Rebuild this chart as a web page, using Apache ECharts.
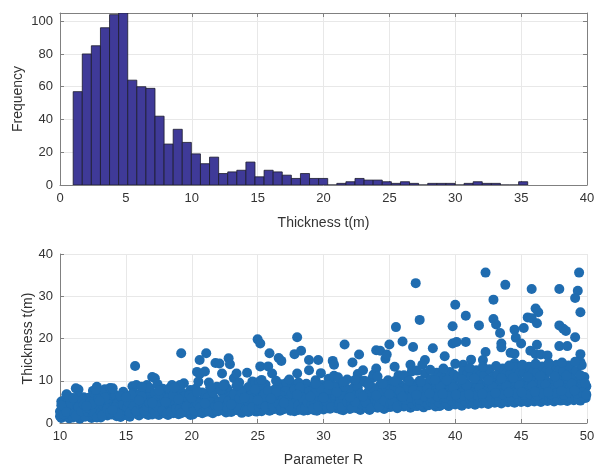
<!DOCTYPE html>
<html>
<head>
<meta charset="utf-8">
<script src="https://cdn.jsdelivr.net/npm/echarts@6/dist/echarts.min.js"></script>
<style>
  html, body { margin: 0; padding: 0; background: #fff; }
  #chart { width: 600px; height: 468px; }
</style>
</head>
<body>
<div id="chart"></div>
<script>
// Histogram of layer thickness: 50 equal bins starting at 1 m
const binStart = 1.0;
const binWidth = 0.69;
const binCounts = [
  57, 80, 85, 96, 104, 105, 64, 60, 59, 42,
  25, 34, 26, 19, 13, 17, 7, 8, 9, 14,
  5, 9, 8, 6, 4, 7, 4, 4, 0, 1,
  2, 4, 3, 3, 2, 1, 2, 1, 0, 1,
  1, 1, 0, 1, 2, 1, 1, 0, 0, 2
];

// Tick labels
const histXTicks = [0, 5, 10, 15, 20, 25, 30, 35, 40];
const histYTicks = [0, 20, 40, 60, 80, 100];
const scatXTicks = [10, 15, 20, 25, 30, 35, 40, 45, 50];
const scatYTicks = [0, 10, 20, 30, 40];

// Parameter R vs thickness t (m), one [R, t] pair per sample
const thicknessVsR = [
  [10.1,1.2],[10.2,2.4],[10.3,3.6],[10.1,5.1],[10.4,1.8],[10.5,4.4],[10.6,2.9],[10.7,1.1],[10.8,5.8],[10.5,6.7],[10.9,3.3],[10.6,1.5],[10.8,2.2],[10.3,4.9],[10.9,4.0],[10.0,1.6],[10.0,2.7],[10.5,6.8],
  [11.0,1.3],[11.1,3.0],[11.2,5.4],[11.3,2.1],[11.4,7.9],[11.5,4.2],[11.6,1.4],[11.7,3.5],[11.8,6.1],[11.9,2.6],[11.2,8.2],[11.5,1.0],[11.9,4.8],[11.4,6.4],[11.7,1.9],
  [12.0,2.0],[12.1,4.5],[12.3,1.4],[12.4,3.2],[12.5,7.6],[12.6,5.2],[12.7,2.4],[12.8,8.6],[12.9,1.6],[12.2,6.0],[12.5,3.9],[12.8,4.7],[12.4,1.2],[12.9,3.0],[12.6,6.8],
  [13.0,1.5],[13.1,3.7],[13.2,5.5],[13.3,2.3],[13.4,8.0],[13.5,4.4],[13.6,1.8],[13.7,6.2],[13.8,3.1],[13.9,2.0],[13.3,7.1],[13.6,4.9],[13.9,5.8],[13.1,1.3],[13.8,8.3],
  [14.0,2.1],[14.1,4.0],[14.2,6.6],[14.3,1.6],[14.5,3.3],[14.6,5.1],[14.7,2.6],[14.8,7.4],[14.9,1.9],[14.4,4.8],[14.7,3.9],[14.2,2.9],[14.9,5.7],[14.6,1.4],[14.0,8.2],
  [15.0,2.2],[15.1,4.3],[15.2,1.7],[15.3,6.0],[15.4,3.4],[15.5,8.7],[15.6,2.5],[15.7,5.0],[15.8,9.0],[15.9,3.8],[15.3,1.5],[15.6,7.1],[15.9,6.3],[15.1,2.9],[15.8,4.6],[15.7,13.5],
  [16.0,1.8],[16.1,3.1],[16.2,5.6],[16.3,2.4],[16.4,7.8],[16.5,4.2],[16.6,9.0],[16.7,1.9],[16.8,6.4],[16.9,3.5],[16.3,4.9],[16.6,2.8],[16.9,5.3],[16.1,6.9],[16.8,8.3],
  [17.0,2.0],[17.1,4.1],[17.2,10.6],[17.3,2.9],[17.4,6.5],[17.5,1.9],[17.6,5.2],[17.7,3.6],[17.8,8.1],[17.9,2.3],[17.2,7.0],[17.5,4.6],[17.8,6.0],[17.0,10.9],[17.4,9.2],[17.9,3.1],
  [18.0,2.6],[18.1,4.8],[18.2,1.9],[18.3,6.7],[18.4,3.5],[18.5,5.5],[18.6,2.3],[18.7,7.6],[18.8,4.2],[18.9,2.9],[18.3,8.2],[18.6,4.0],[18.9,6.1],[18.1,3.3],[18.5,9.0],
  [19.0,2.1],[19.1,4.5],[19.2,16.5],[19.3,3.0],[19.4,9.4],[19.5,5.8],[19.6,2.5],[19.7,6.9],[19.8,3.8],[19.9,1.9],[19.2,7.4],[19.5,4.1],[19.8,5.2],[19.1,9.0],[19.4,2.8],[19.9,7.8],
  [20.0,2.4],[20.1,4.3],[20.2,6.5],[20.3,3.1],[20.4,12.1],[20.5,5.0],[20.6,11.6],[20.7,2.7],[20.8,7.2],[20.9,3.9],[20.6,14.9],[20.3,8.1],[20.9,5.6],[20.1,2.0],[20.5,9.8],[20.8,4.6],
  [21.0,2.6],[21.1,16.5],[21.2,4.8],[21.3,9.6],[21.4,3.3],[21.5,6.2],[21.6,2.3],[21.7,7.8],[21.8,14.2],[21.9,4.1],[21.3,5.5],[21.6,3.6],[21.9,8.6],[21.1,6.9],[21.5,2.9],[21.0,12.2],
  [22.0,2.8],[22.1,14.1],[22.2,5.1],[22.3,11.7],[22.4,3.4],[22.5,6.8],[22.6,2.5],[22.7,8.1],[22.8,15.3],[22.9,4.4],[22.3,7.3],[22.6,5.9],[22.9,13.9],[22.1,3.9],[22.5,9.2],[22.8,2.7],
  [23.0,2.6],[23.1,4.7],[23.2,10.6],[23.3,3.2],[23.4,11.7],[23.5,6.3],[23.6,2.9],[23.7,8.0],[23.8,5.3],[23.9,3.6],[23.3,7.1],[23.6,9.6],[23.9,6.6],[23.1,3.9],[23.5,4.3],[23.8,2.4],
  [24.0,3.0],[24.1,5.4],[24.2,11.9],[24.3,2.6],[24.4,7.5],[24.5,4.0],[24.6,9.8],[24.7,3.4],[24.8,6.2],[24.9,2.7],[24.3,8.5],[24.6,5.0],[24.9,7.0],[24.1,4.4],[24.5,2.9],[24.8,9.6],
  [25.0,19.8],[25.2,18.8],[25.2,13.4],[25.0,3.1],[25.1,5.6],[25.3,2.8],[25.4,7.4],[25.5,4.3],[25.6,9.1],[25.7,3.5],[25.8,13.4],[25.9,6.0],[25.3,8.7],[25.6,5.1],[25.9,2.9],[25.1,9.7],[25.5,6.8],
  [26.0,3.0],[26.1,11.7],[26.2,5.0],[26.3,7.9],[26.4,3.6],[26.5,6.3],[26.6,15.4],[26.8,14.7],[26.7,2.9],[26.8,9.2],[26.9,4.5],[26.3,5.9],[26.6,8.3],[26.9,3.2],[26.1,6.9],[26.5,4.1],[25.9,16.5],
  [27.0,3.3],[27.1,5.8],[27.2,9.5],[27.3,3.9],[27.4,7.0],[27.5,2.9],[27.6,8.6],[27.7,4.7],[27.8,16.3],[27.9,6.1],[27.3,5.2],[27.6,3.5],[27.9,9.1],[27.1,7.6],[27.5,4.3],[27.8,2.8],
  [28.0,20.3],[28.0,11.7],[28.1,3.1],[28.2,5.7],[28.3,17.1],[28.4,3.8],[28.5,7.3],[28.6,4.4],[28.7,9.3],[28.8,3.0],[28.9,14.9],[28.9,12.5],[28.3,6.5],[28.6,8.0],[28.9,5.0],[28.1,9.6],[28.5,2.9],[28.8,6.3],
  [29.0,3.4],[29.1,5.9],[29.2,8.2],[29.3,3.0],[29.4,10.1],[29.5,4.6],[29.6,14.9],[29.7,7.0],[29.8,3.6],[29.9,9.0],[29.3,6.6],[29.6,5.3],[29.9,4.1],[29.1,7.6],[29.5,2.9],[29.8,11.8],
  [30.0,3.2],[30.1,5.6],[30.2,8.6],[30.3,4.1],[30.4,10.5],[30.5,3.4],[30.6,7.1],[30.7,14.7],[30.8,13.8],[30.9,5.0],[30.3,6.3],[30.6,9.3],[30.9,3.7],[30.1,7.7],[30.5,4.7],[30.8,11.2],
  [31.0,3.5],[31.1,6.0],[31.2,9.1],[31.3,3.2],[31.4,7.5],[31.5,4.5],[31.6,18.6],[31.7,5.6],[31.8,10.3],[31.9,3.9],[31.3,8.3],[31.6,6.7],[31.9,4.8],[31.1,10.8],[31.5,3.0],[31.8,7.0],
  [32.0,3.3],[32.1,5.3],[32.2,14.3],[32.3,4.0],[32.4,8.9],[32.5,3.5],[32.6,6.2],[32.7,16.2],[32.8,4.7],[32.9,9.8],[32.3,7.1],[32.6,11.6],[32.9,5.8],[32.1,8.0],[32.5,4.4],[32.8,3.1],
  [33.0,12.5],[33.1,3.7],[33.2,6.4],[33.3,9.4],[33.4,3.4],[33.5,7.7],[33.6,4.8],[33.7,10.6],[33.8,3.9],[33.9,6.8],[33.3,5.5],[33.6,8.6],[33.9,4.3],[33.1,10.0],[33.5,3.1],[33.8,11.5],
  [34.0,17.2],[34.0,12.9],[34.3,17.1],[34.1,3.6],[34.2,6.0],[34.3,9.0],[34.4,4.2],[34.5,7.5],[34.6,3.3],[34.7,15.2],[34.8,16.2],[34.8,5.2],[34.9,10.1],[34.3,4.8],[34.6,8.4],[34.9,3.8],[34.1,11.0],[34.5,6.6],
  [35.0,18.6],[35.4,13.3],[35.5,22.7],[35.1,3.8],[35.2,6.5],[35.3,9.6],[35.4,4.4],[35.5,7.2],[35.6,3.5],[35.7,11.3],[35.8,5.1],[35.9,8.8],[35.3,5.7],[35.6,10.2],[35.9,4.0],[35.1,7.9],[35.7,6.3],
  [36.0,19.3],[36.6,13.8],[36.8,18.0],[36.1,3.9],[36.2,6.9],[36.3,10.7],[36.4,4.5],[36.5,8.1],[36.6,3.6],[36.7,12.2],[36.8,5.5],[36.9,9.2],[36.3,5.0],[36.6,7.4],[36.9,4.1],[36.1,11.3],[36.5,6.1],
  [37.0,33.1],[37.3,24.4],[37.7,14.9],[37.5,13.8],[37.1,4.0],[37.2,7.0],[37.3,10.0],[37.4,4.6],[37.5,8.8],[37.6,3.7],[37.7,11.7],[37.8,5.8],[37.9,9.5],[37.3,5.2],[37.6,7.6],[37.9,4.3],[37.1,12.4],[37.5,6.4],
  [38.3,17.7],[38.0,4.2],[38.1,6.6],[38.2,10.4],[38.3,4.8],[38.4,8.3],[38.5,3.9],[38.6,11.9],[38.7,5.9],[38.8,9.7],[38.9,4.5],[38.3,6.2],[38.6,7.8],[38.9,11.0],[38.1,12.6],[38.5,5.3],[38.8,4.0],
  [39.2,15.8],[39.8,22.9],[39.8,18.8],[39.0,4.3],[39.1,7.1],[39.2,10.7],[39.3,5.0],[39.4,8.5],[39.5,4.0],[39.6,12.1],[39.7,6.1],[39.8,9.9],[39.9,4.6],[39.3,6.6],[39.6,8.0],[39.9,11.4],[39.1,12.9],[39.5,5.5],
  [40.0,28.0],[40.1,19.2],[40.0,14.0],[40.6,13.8],[40.8,25.4],[40.8,19.2],[40.0,4.4],[40.1,7.4],[40.2,10.9],[40.3,5.1],[40.4,8.8],[40.5,4.1],[40.6,12.3],[40.7,6.3],[40.8,9.4],[40.9,4.8],[40.3,6.9],[40.6,8.2],[40.9,11.6],[40.4,5.6],
  [41.2,15.0],[41.0,4.5],[41.1,7.6],[41.2,11.1],[41.3,5.3],[41.4,9.0],[41.5,4.3],[41.6,12.5],[41.7,6.5],[41.8,23.1],[41.8,9.6],[41.9,4.9],[41.3,7.0],[41.6,8.3],[41.9,11.3],[41.1,13.0],[41.5,5.8],
  [42.3,35.6],[42.3,16.8],[42.1,14.9],[42.0,4.6],[42.1,7.8],[42.2,11.3],[42.3,5.4],[42.4,9.2],[42.5,4.5],[42.6,12.7],[42.7,6.7],[42.8,9.8],[42.9,29.2],[42.9,24.6],[42.9,5.1],[42.3,7.2],[42.6,8.5],[42.9,11.0],[42.1,13.3],[42.5,6.0],
  [43.1,23.3],[43.4,21.3],[43.5,18.8],[43.5,17.9],[43.8,32.7],[43.0,4.8],[43.1,8.0],[43.2,11.5],[43.3,5.6],[43.4,9.4],[43.5,4.6],[43.6,12.9],[43.7,6.9],[43.8,10.0],[43.9,5.2],[43.3,7.4],[43.6,8.6],[43.9,11.8],[43.1,13.5],[43.5,6.2],
  [44.5,22.1],[44.6,20.2],[44.2,16.6],[44.5,16.4],[44.5,14.2],[44.0,4.9],[44.1,8.2],[44.2,11.7],[44.3,5.7],[44.4,9.5],[44.5,4.8],[44.6,13.1],[44.7,7.0],[44.8,10.2],[44.9,5.3],[44.3,7.6],[44.6,8.8],[44.9,12.0],[44.1,13.6],[44.5,6.3],
  [45.2,22.5],[45.0,18.8],[45.5,25.0],[45.8,24.8],[45.8,31.7],[45.7,17.1],[45.0,5.0],[45.1,8.4],[45.2,11.9],[45.3,5.9],[45.4,9.7],[45.5,4.9],[45.6,13.3],[45.7,7.1],[45.8,10.4],[45.9,5.5],[45.3,7.8],[45.6,9.0],[45.9,12.2],[45.1,13.8],[45.5,6.5],
  [46.1,27.1],[46.3,26.2],[46.2,23.6],[46.2,18.5],[46.1,16.3],[46.5,16.2],[46.0,5.1],[46.1,8.5],[46.2,12.0],[46.3,6.0],[46.4,9.8],[46.5,5.0],[46.6,13.4],[46.7,7.3],[46.8,10.5],[46.9,5.6],[46.3,7.9],[46.6,9.2],[46.9,12.3],[46.1,14.0],[46.5,6.6],
  [47.0,16.0],[47.7,13.8],[47.9,31.7],[47.9,23.1],[47.9,18.2],[47.0,5.2],[47.1,8.7],[47.2,12.1],[47.3,6.1],[47.4,9.9],[47.5,5.1],[47.6,13.5],[47.7,7.4],[47.8,10.7],[47.9,5.7],[47.3,8.0],[47.6,9.3],[47.9,12.4],[47.1,14.2],[47.5,6.7],
  [48.2,22.3],[48.4,21.8],[48.5,18.2],[48.9,12.5],[48.0,5.3],[48.1,8.8],[48.2,12.2],[48.3,6.2],[48.4,10.0],[48.5,5.2],[48.6,13.6],[48.7,7.5],[48.8,10.8],[48.9,5.8],[48.3,8.1],[48.6,9.4],[48.9,6.9],[48.1,14.3],[48.5,6.8],
  [49.4,35.6],[49.3,31.3],[49.1,29.6],[49.5,26.2],[49.1,20.3],[49.5,16.3],[49.5,14.4],[49.0,5.4],[49.1,8.9],[49.2,12.3],[49.3,6.3],[49.4,10.1],[49.5,5.3],[49.6,13.7],[49.7,7.6],[49.8,10.9],[49.9,5.9],[49.3,8.2],[49.6,9.5],[49.9,7.0],[49.1,14.5],[49.5,6.9],[49.8,6.4],[49.9,8.5],
  // denser core of the cloud
  [10.2,3.1],[10.4,5.6],[10.7,3.9],[10.9,1.7],[10.3,2.0],[10.6,5.2],[10.8,4.6],[10.1,4.2],[10.5,2.6],[10.7,6.1],
  [11.1,2.3],[11.3,4.6],[11.5,3.2],[11.7,5.5],[11.9,1.5],[11.2,1.7],[11.4,3.8],[11.6,2.8],[11.8,4.3],[11.0,5.9],
  [12.1,2.7],[12.3,5.0],[12.5,1.9],[12.7,3.6],[12.9,5.6],[12.2,3.5],[12.4,4.3],[12.6,2.2],[12.8,1.3],[12.0,4.0],[12.7,7.9],
  [13.1,2.5],[13.3,4.1],[13.5,2.9],[13.7,4.5],[13.9,3.6],[13.2,1.8],[13.4,6.1],[13.6,3.4],[13.8,2.4],[13.0,5.2],
  [14.1,2.7],[14.3,4.4],[14.5,1.8],[14.7,5.9],[14.9,3.2],[14.2,3.7],[14.4,2.2],[14.6,6.4],[14.8,4.3],[14.0,3.1],
  [15.1,3.6],[15.3,2.4],[15.5,5.2],[15.7,3.1],[15.9,2.0],[15.2,4.9],[15.4,6.7],[15.6,4.0],[15.8,2.8],[15.0,6.1],
  [16.1,4.4],[16.3,3.4],[16.5,2.2],[16.7,5.0],[16.9,2.6],[16.2,6.3],[16.4,2.9],[16.6,3.9],[16.8,4.7],[16.0,5.4],[16.2,8.6],
  [17.1,3.3],[17.3,5.4],[17.5,2.9],[17.7,4.4],[17.9,5.6],[17.2,2.4],[17.4,3.8],[17.6,6.8],[17.8,3.0],[17.0,4.8],[17.5,7.7],
  [18.1,2.2],[18.3,4.4],[18.5,3.0],[18.7,5.1],[18.9,3.7],[18.2,5.8],[18.4,2.6],[18.6,6.5],[18.8,3.3],[18.0,4.9],[18.7,8.4],
  [19.1,3.3],[19.3,5.2],[19.5,3.2],[19.7,4.6],[19.9,3.0],[19.2,2.3],[19.4,6.3],[19.6,3.9],[19.8,6.6],[19.0,5.6],
  [20.1,3.5],[20.3,5.3],[20.5,2.6],[20.7,4.2],[20.9,6.9],[20.2,2.9],[20.4,4.7],[20.6,3.6],[20.8,2.3],[20.0,6.0],[20.4,7.3],
  [21.1,3.4],[21.3,2.7],[21.5,4.5],[21.7,5.8],[21.9,3.0],[21.2,6.0],[21.4,5.0],[21.6,7.2],[21.8,4.1],[21.0,4.6],[21.4,8.4],
  [22.1,5.0],[22.3,3.0],[22.5,4.4],[22.7,3.5],[22.9,6.3],[22.2,7.8],[22.4,5.6],[22.6,3.9],[22.8,5.2],[22.0,4.0],[22.4,8.9],
  [23.1,2.9],[23.3,5.3],[23.5,3.4],[23.7,4.8],[23.9,2.8],[23.2,6.7],[23.4,4.1],[23.6,5.8],[23.8,7.2],[23.0,4.4],[23.4,8.8],
  [24.1,3.4],[24.3,4.9],[24.5,6.6],[24.7,5.1],[24.9,4.0],[24.2,3.0],[24.4,5.7],[24.6,3.7],[24.8,8.0],[24.0,6.0],
  [25.1,3.8],[25.3,5.2],[25.5,3.2],[25.7,6.1],[25.9,4.2],[25.2,4.6],[25.4,6.2],[25.6,3.9],[25.8,7.7],[25.0,5.4],[25.3,10.2],
  [26.1,4.1],[26.3,3.3],[26.5,5.3],[26.7,6.6],[26.9,5.4],[26.2,3.9],[26.4,7.3],[26.6,4.4],[26.8,3.5],[26.0,5.8],[26.4,10.0],
  [27.1,3.6],[27.3,4.6],[27.5,6.3],[27.7,3.2],[27.9,5.0],[27.2,5.4],[27.4,4.1],[27.6,6.9],[27.8,7.9],[27.0,4.8],[27.4,10.3],
  [28.1,4.2],[28.3,3.3],[28.5,5.3],[28.7,4.0],[28.9,7.4],[28.2,8.4],[28.4,6.0],[28.6,3.5],[28.8,4.8],[28.0,6.7],
  [29.1,4.3],[29.3,5.0],[29.5,6.5],[29.7,3.9],[29.9,5.6],[29.2,3.4],[29.4,7.2],[29.6,4.0],[29.8,8.1],[29.0,6.2],[29.4,9.3],
  [30.1,4.4],[30.3,3.5],[30.5,5.9],[30.7,4.3],[30.9,6.6],[30.2,5.1],[30.4,7.8],[30.6,3.8],[30.8,8.5],[30.0,6.0],[30.4,9.0],
  [31.1,4.2],[31.3,5.7],[31.5,6.2],[31.7,3.6],[31.9,5.9],[31.2,4.5],[31.4,3.8],[31.6,8.6],[31.8,5.0],[31.0,7.3],[31.5,9.7],
  [32.1,4.1],[32.3,5.6],[32.5,6.6],[32.7,3.7],[32.9,4.4],[32.2,3.6],[32.4,5.0],[32.6,8.4],[32.8,6.9],[32.0,6.1],[32.4,10.2],
  [33.1,4.4],[33.3,3.8],[33.5,5.4],[33.7,4.5],[33.9,5.7],[33.2,4.8],[33.4,7.3],[33.6,3.5],[33.8,8.2],[33.0,6.3],[33.4,9.1],
  [34.1,4.7],[34.3,5.6],[34.5,3.8],[34.7,6.0],[34.9,4.6],[34.2,3.9],[34.4,7.1],[34.6,5.3],[34.8,8.0],[34.0,6.5],[34.5,9.3],
  [35.1,4.7],[35.3,4.0],[35.5,6.0],[35.7,4.6],[35.9,6.3],[35.2,5.2],[35.4,8.3],[35.6,3.9],[35.8,7.4],[35.0,6.8],[35.4,9.9],
  [36.1,4.8],[36.3,4.2],[36.5,5.5],[36.7,4.7],[36.9,6.6],[36.2,5.5],[36.4,8.6],[36.6,6.0],[36.8,7.8],[36.0,6.2],[36.5,10.0],
  [37.1,5.1],[37.35,4.4],[37.55,5.7],[37.65,4.9],[37.95,6.9],[37.25,5.5],[37.45,7.8],[37.7,6.2],[37.85,8.3],[37.05,6.6],[37.4,9.8],
  [38.15,5.0],[38.35,4.5],[38.45,6.7],[38.75,4.9],[38.95,7.2],[38.25,5.8],[38.55,7.1],[38.65,6.3],[38.85,8.7],[38.05,7.0],[38.45,10.2],
  [39.15,5.3],[39.35,4.7],[39.45,7.0],[39.75,5.2],[39.95,7.4],[39.25,6.0],[39.55,7.2],[39.65,6.4],[39.85,8.4],[39.05,6.9],[39.35,10.1],
  [40.15,5.4],[40.35,4.5],[40.55,7.4],[40.75,5.2],[40.95,7.6],[40.25,6.1],[40.45,7.0],[40.65,6.4],[40.85,8.9],[40.05,6.7],[40.5,10.3],
  [41.15,5.5],[41.35,4.8],[41.45,7.3],[41.75,5.0],[41.95,7.7],[41.25,6.2],[41.55,7.0],[41.65,6.6],[41.85,8.3],[41.05,6.8],[41.45,10.5],
  [42.15,5.6],[42.35,4.9],[42.45,7.6],[42.75,5.4],[42.95,7.5],[42.25,6.1],[42.55,7.2],[42.65,6.3],[42.85,8.6],[42.05,6.9],[42.5,10.1],
  [43.15,5.5],[43.35,5.0],[43.45,7.8],[43.75,5.3],[43.95,7.9],[43.25,6.4],[43.55,7.1],[43.65,6.7],[43.85,8.8],[43.05,7.1],[43.5,10.6],
  [44.15,5.8],[44.35,5.1],[44.45,7.7],[44.75,5.6],[44.95,8.1],[44.25,6.3],[44.55,7.4],[44.65,6.9],[44.85,9.0],[44.05,7.2],[44.4,10.7],
  [45.15,5.7],[45.35,5.2],[45.45,8.0],[45.75,5.4],[45.95,8.2],[45.25,6.6],[45.55,7.6],[45.65,6.8],[45.85,8.8],[45.05,7.3],[45.5,10.9],
  [46.15,6.0],[46.35,5.3],[46.45,7.9],[46.75,5.8],[46.95,8.3],[46.25,6.5],[46.55,7.5],[46.65,7.0],[46.85,9.1],[46.05,7.4],[46.45,11.1],
  [47.15,5.9],[47.35,5.4],[47.45,8.2],[47.75,5.7],[47.95,8.4],[47.25,6.8],[47.55,7.8],[47.65,7.1],[47.85,9.2],[47.05,7.3],[47.55,11.0],
  [48.15,6.2],[48.35,5.5],[48.45,8.1],[48.75,6.0],[48.95,8.5],[48.25,6.7],[48.55,7.7],[48.65,7.2],[48.85,9.3],[48.05,7.6],[48.45,11.2],
  [49.15,6.1],[49.35,5.6],[49.45,8.4],[49.75,6.1],[49.95,8.7],[49.25,7.0],[49.55,7.9],[49.65,7.3],[49.85,9.4],[49.05,7.7],[49.5,11.3],[49.95,6.7]
];

const FONT = 'Liberation Sans, Arial, sans-serif';
const AXIS_GRAY = '#808080';
const TEXT_GRAY = '#333333';
const GRID_GRAY = '#e8e8e8';

// Histogram bins as [left edge, right edge, count]
const histData = binCounts.map((c, i) => [binStart + i * binWidth, binStart + (i + 1) * binWidth, c]);

function tickOpts(show) {
  return { show: show, inside: true, length: 4, lineStyle: { color: AXIS_GRAY } };
}
function labelOpts(show) {
  return { show: show, color: TEXT_GRAY, fontFamily: FONT, fontSize: 13, margin: 7 };
}
const nameStyle = { color: TEXT_GRAY, fontFamily: FONT, fontSize: 14 };

const chart = echarts.init(document.getElementById('chart'), null, { renderer: 'canvas' });

chart.setOption({
  animation: false,
  backgroundColor: '#ffffff',
  grid: [
    { left: 60, top: 13, width: 527, height: 172, containLabel: false },
    { left: 60, top: 254, width: 527, height: 173, containLabel: false }
  ],
  xAxis: [
    {
      gridIndex: 0, type: 'value', min: histXTicks[0], max: histXTicks[histXTicks.length - 1], interval: 5,
      name: 'Thickness t(m)', nameLocation: 'middle', nameGap: 31, nameMoveOverlap: false,
      nameTextStyle: nameStyle,
      axisLine: { show: true, onZero: false, lineStyle: { color: AXIS_GRAY } },
      axisTick: tickOpts(true), axisLabel: labelOpts(true),
      splitLine: { show: true, lineStyle: { color: GRID_GRAY } }
    },
    {
      gridIndex: 0, type: 'value', position: 'top', min: 0, max: 40, interval: 5,
      axisLine: { show: true, onZero: false, lineStyle: { color: AXIS_GRAY } },
      axisTick: tickOpts(true), axisLabel: labelOpts(false), splitLine: { show: false }
    },
    {
      gridIndex: 1, type: 'value', min: scatXTicks[0], max: scatXTicks[scatXTicks.length - 1], interval: 5,
      name: 'Parameter R', nameLocation: 'middle', nameGap: 30, nameMoveOverlap: false,
      nameTextStyle: nameStyle,
      axisLine: { show: true, onZero: false, lineStyle: { color: AXIS_GRAY } },
      axisTick: tickOpts(true), axisLabel: labelOpts(true),
      splitLine: { show: true, lineStyle: { color: GRID_GRAY } }
    }
  ],
  yAxis: [
    {
      gridIndex: 0, type: 'value', min: 0, max: 105, interval: 20,
      name: 'Frequency', nameLocation: 'middle', nameGap: 35, nameMoveOverlap: false,
      nameTextStyle: nameStyle,
      axisLine: { show: true, onZero: false, lineStyle: { color: AXIS_GRAY } },
      axisTick: tickOpts(true), axisLabel: labelOpts(true),
      splitLine: { show: true, lineStyle: { color: GRID_GRAY } }
    },
    {
      gridIndex: 0, type: 'value', position: 'right', min: 0, max: 105, interval: 20,
      axisLine: { show: true, onZero: false, lineStyle: { color: AXIS_GRAY } },
      axisTick: tickOpts(true), axisLabel: labelOpts(false), splitLine: { show: false }
    },
    {
      gridIndex: 1, type: 'value', min: scatYTicks[0], max: scatYTicks[scatYTicks.length - 1], interval: 10,
      name: 'Thickness t(m)', nameLocation: 'middle', nameGap: 25, nameMoveOverlap: false,
      nameTextStyle: nameStyle,
      axisLine: { show: true, onZero: false, lineStyle: { color: AXIS_GRAY } },
      axisTick: tickOpts(true), axisLabel: labelOpts(true),
      splitLine: { show: true, lineStyle: { color: GRID_GRAY } }
    }
  ],
  series: [
    {
      type: 'custom',
      xAxisIndex: 0, yAxisIndex: 0,
      data: histData,
      encode: { x: [0, 1], y: 2 },
      clip: true,
      renderItem: function (params, api) {
        const p0 = api.coord([api.value(0), api.value(2)]);
        const p1 = api.coord([api.value(1), 0]);
        return {
          type: 'rect',
          shape: { x: p0[0], y: p0[1], width: p1[0] - p0[0], height: p1[1] - p0[1] },
          style: { fill: '#3f3a98', stroke: '#1c1c2c', lineWidth: 0.8 }
        };
      }
    },
    {
      type: 'scatter',
      xAxisIndex: 2, yAxisIndex: 2,
      data: thicknessVsR,
      symbol: 'circle',
      symbolSize: 10,
      itemStyle: { color: '#1f6cb0', opacity: 1 },
      clip: false
    }
  ]
});
</script>
</body>
</html>
